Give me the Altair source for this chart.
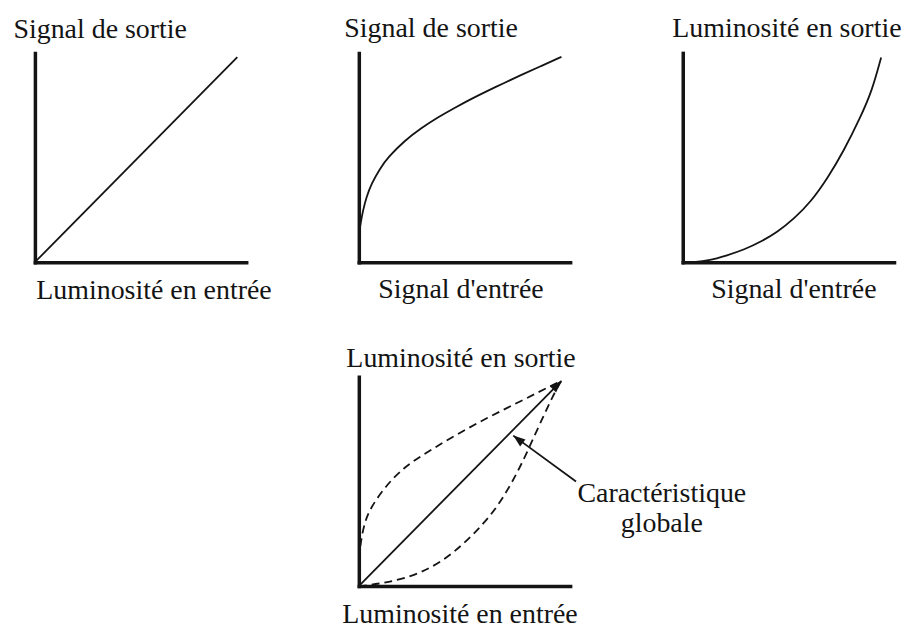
import altair as alt
import pandas as pd

FONT = "Liberation Serif"
INK = "#141414"
FS = 28
W, H = 212, 210

# Panel 1: linear response (Luminosité en entrée -> Signal de sortie)
p1_x = [0.0, 0.958]
p1_y = [0.0, 0.98]

# Panel 2: camera gamma (concave)
p2_x = [0.0, 0.009, 0.020, 0.036, 0.060, 0.099, 0.138, 0.217, 0.296, 0.374, 0.453, 0.532, 0.605, 0.69, 0.763, 0.86, 0.959]
p2_y = [0.13, 0.19, 0.248, 0.311, 0.375, 0.446, 0.501, 0.581, 0.641, 0.692, 0.737, 0.780, 0.817, 0.857, 0.892, 0.936, 0.981]

# Panel 3: display gamma (convex)
p3_x = [0.05, 0.118, 0.212, 0.291, 0.369, 0.448, 0.527, 0.605, 0.684, 0.763, 0.841, 0.896, 0.939]
p3_y = [0.0, 0.006, 0.033, 0.060, 0.097, 0.144, 0.208, 0.287, 0.399, 0.533, 0.692, 0.819, 0.978]

# Panel 4: overall characteristic
p4_lin_x = [0.0, 0.959]
p4_lin_y = [0.0, 0.981]
p4_up_x = [0.0, 0.008, 0.024, 0.055, 0.133, 0.212, 0.291, 0.448, 0.605, 0.763, 0.920, 0.959]
p4_up_y = [0.13, 0.20, 0.295, 0.375, 0.486, 0.565, 0.620, 0.716, 0.803, 0.882, 0.962, 0.981]
p4_lo_x = [0.0, 0.024, 0.133, 0.291, 0.448, 0.605, 0.684, 0.763, 0.841, 0.920, 0.959]
p4_lo_y = [0.0, 0.002, 0.016, 0.057, 0.152, 0.311, 0.422, 0.565, 0.740, 0.914, 0.981]
arrow_x = [1.028, 0.731]
arrow_y = [0.50, 0.719]
head_x = [0.959, 0.731]
head_y = [0.981, 0.719]
head_angle = [44.7, 307.6]
note_lines = ["Caractéristique", "globale"]
note_x = [1.434, 1.434]
note_y = [0.40, 0.257]

ARROW_SHAPE = "M0,0L-0.42,1.15L0.42,1.15Z"


def axis(title, tx, ty):
    return dict(
        title=title, labels=False, ticks=False, grid=False,
        domainColor=INK, domainWidth=3.5, domainCap="square",
        titleAngle=0, titleAlign="center", titleBaseline="alphabetic",
        titleX=tx, titleY=ty, titleFont=FONT, titleFontSize=FS,
        titleFontWeight="normal", titleColor=INK,
    )


def xy(xt, xtx, xty, yt, ytx, yty):
    return dict(
        x=alt.X("x:Q", scale=alt.Scale(domain=[0, 1], nice=False, zero=False),
                axis=alt.Axis(**axis(xt, xtx, xty))),
        y=alt.Y("y:Q", scale=alt.Scale(domain=[0, 1], nice=False, zero=False),
                axis=alt.Axis(**axis(yt, ytx, yty))),
    )


def curve(xs, ys, enc, dash=None, width=1.8, interp="basis"):
    kw = dict(color=INK, strokeWidth=width, interpolate=interp)
    if dash:
        kw["strokeDash"] = dash
    return alt.Chart(pd.DataFrame({"x": xs, "y": ys})).mark_line(**kw).encode(**enc)


enc1 = xy("Luminosité en entrée", 119, 36, "Signal de sortie", 65, -15)
p1 = curve(p1_x, p1_y, enc1, interp="linear").properties(width=W, height=H)

enc2 = xy("Signal d'entrée", 102, 35, "Signal de sortie", 72, -16)
p2 = curve(p2_x, p2_y, enc2).properties(width=W, height=H)

enc3 = xy("Signal d'entrée", 111, 35, "Luminosité en sortie", 104, -16)
p3 = curve(p3_x, p3_y, enc3).properties(width=W, height=H)

enc4 = xy("Luminosité en entrée", 101, 37, "Luminosité en sortie", 102, -10)
p4 = alt.layer(
    curve(p4_lin_x, p4_lin_y, enc4, interp="linear"),
    curve(p4_up_x, p4_up_y, enc4, dash=[8, 5]),
    curve(p4_lo_x, p4_lo_y, enc4, dash=[8, 5]),
    curve(arrow_x, arrow_y, enc4, interp="linear"),
    alt.Chart(pd.DataFrame({"x": head_x, "y": head_y, "a": head_angle}))
    .mark_point(shape=ARROW_SHAPE, filled=True, color=INK, opacity=1, size=440)
    .encode(x="x:Q", y="y:Q", angle=alt.Angle("a:Q", scale=None)),
    alt.Chart(pd.DataFrame({"x": note_x, "y": note_y, "t": note_lines}))
    .mark_text(font=FONT, fontSize=FS, align="center", baseline="alphabetic", color=INK)
    .encode(x="x:Q", y="y:Q", text="t:N"),
).properties(width=W, height=H)

blank = (
    alt.Chart(pd.DataFrame({"x": [0.5], "y": [0.5]}))
    .mark_point(opacity=0)
    .encode(x=alt.X("x:Q", axis=None), y=alt.Y("y:Q", axis=None))
    .properties(width=W, height=H)
)

chart = (
    alt.concat(p1, p2, p3, blank, p4, columns=3,
               spacing={"row": 115, "column": 113}, bounds="flush")
    .configure_view(stroke="transparent")
    .properties(padding={"left": 4, "top": 5, "right": 0, "bottom": 0}, background="white")
)

chart.save("out.html", embed_options={"renderer": "svg", "actions": False})
